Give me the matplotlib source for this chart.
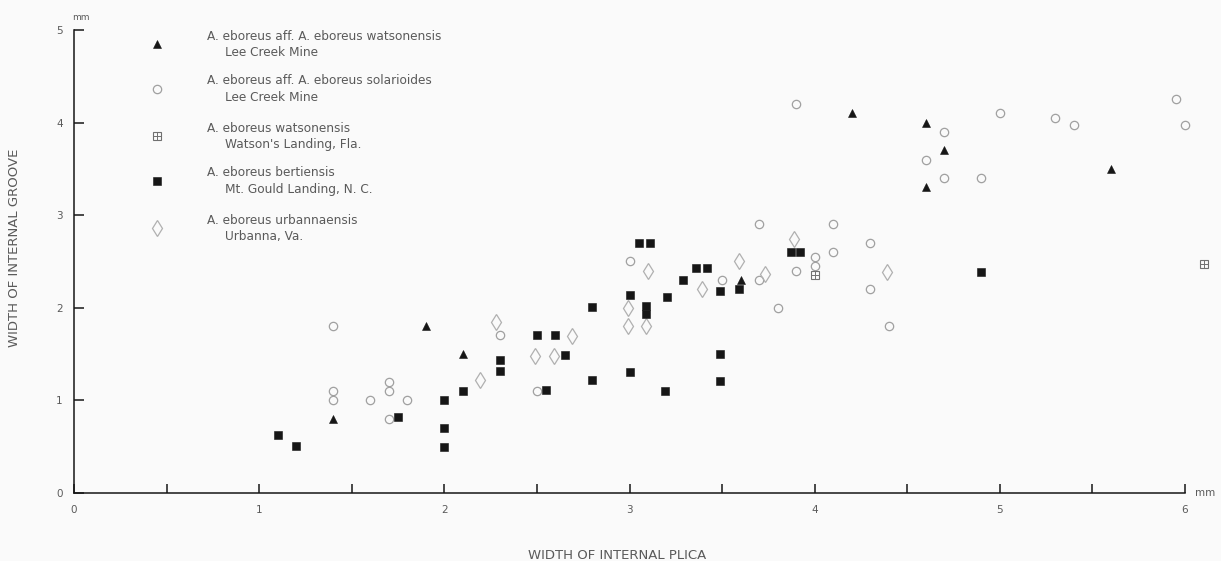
import matplotlib.pyplot as plt
from matplotlib.lines import Line2D

# Width of internal plica (x) vs width of internal groove (y), in mm

# A. eboreus aff. A. eboreus watsonensis - Lee Creek Mine
tri_x = [1.4, 1.9, 2.1, 3.6, 4.2, 4.6, 4.7, 4.6, 5.6]
tri_y = [0.8, 1.8, 1.5, 2.3, 4.1, 4.0, 3.7, 3.3, 3.5]

# A. eboreus aff. A. eboreus solarioides - Lee Creek Mine
circ_x = [1.4, 1.4, 1.4, 1.6, 1.7, 1.7, 1.7, 1.8, 2.3, 2.5, 3.0, 3.5, 3.7, 3.7,
          3.8, 3.9, 3.9, 4.0, 4.0, 4.1, 4.1, 4.3, 4.3, 4.4, 4.6, 4.7, 4.7, 4.9,
          5.0, 5.3, 5.4, 5.95, 6.0]
circ_y = [1.8, 1.1, 1.0, 1.0, 1.2, 1.1, 0.8, 1.0, 1.7, 1.1, 2.5, 2.3, 2.3, 2.9,
          2.0, 2.4, 4.2, 2.55, 2.45, 2.6, 2.9, 2.7, 2.2, 1.8, 3.6, 3.9, 3.4, 3.4,
          4.1, 4.05, 3.97, 4.25, 3.97]

# A. eboreus watsonensis - Watson's Landing, Fla.
box_x = [4.0, 6.1]
box_y = [2.35, 2.47]

# A. eboreus bertiensis - Mt. Gould Landing, N. C.
sq_x = [1.1, 1.2, 1.75, 2.0, 2.0, 2.0, 2.1, 2.3, 2.3, 2.5, 2.6, 2.55, 2.65, 2.8,
        2.8, 3.0, 3.0, 3.05, 3.11, 3.09, 3.09, 3.2, 3.19, 3.29, 3.36, 3.42, 3.49,
        3.59, 3.49, 3.49, 3.87, 3.92, 4.9]
sq_y = [0.62, 0.5, 0.82, 1.0, 0.7, 0.49, 1.1, 1.43, 1.31, 1.7, 1.7, 1.11, 1.49,
        2.01, 1.22, 2.14, 1.3, 2.7, 2.7, 2.02, 1.93, 2.11, 1.1, 2.3, 2.43, 2.43,
        2.18, 2.2, 1.5, 1.21, 2.6, 2.6, 2.38]

# A. eboreus urbannaensis - Urbanna, Va.
dia_x = [2.19, 2.28, 2.49, 2.59, 2.69, 2.99, 2.99, 3.09, 3.1, 3.39, 3.59, 3.73,
         3.89, 4.39]
dia_y = [1.22, 1.85, 1.48, 1.48, 1.69, 2.0, 1.8, 1.8, 2.4, 2.2, 2.5, 2.36, 2.74,
         2.39]

legend_names = [
    ("A. eboreus aff. A. eboreus watsonensis", "Lee Creek Mine"),
    ("A. eboreus aff. A. eboreus solarioides", "Lee Creek Mine"),
    ("A. eboreus watsonensis", "Watson's Landing, Fla."),
    ("A. eboreus bertiensis", "Mt. Gould Landing, N. C."),
    ("A. eboreus urbannaensis", "Urbanna, Va."),
]

ink = "#161616"
text_col = "#5a5a5a"

tri_style = dict(marker="^", ms=6.3, color=ink, mec=ink, mew=0.4, ls="none")
circ_style = dict(marker="o", ms=6, mfc="none", mec="#a0a0a0", mew=0.9, ls="none")
box_style = dict(marker="s", ms=5.3, mfc="none", mec="#707070", mew=0.8, ls="none")
plus_style = dict(marker="+", ms=5.3, color="#707070", mew=0.7, ls="none")
sq_style = dict(marker="s", ms=6.0, color=ink, mec=ink, mew=0.4, ls="none")
dia_style = dict(marker="d", ms=8, mfc="none", mec="#b0b0b0", mew=0.9, ls="none")

fig = plt.figure(figsize=(12.21, 5.61), dpi=100, facecolor="#fafafa")
ax = fig.add_axes([74 / 1221, 1 - 492.7 / 561, 1111 / 1221, 462.7 / 561])
ax.set_facecolor("#fafafa")

ax.plot(circ_x, circ_y, clip_on=False, **circ_style)
ax.plot(dia_x, dia_y, clip_on=False, **dia_style)
ax.plot(box_x, box_y, clip_on=False, **box_style)
ax.plot(box_x, box_y, clip_on=False, **plus_style)
ax.plot(sq_x, sq_y, clip_on=False, **sq_style)
ax.plot(tri_x, tri_y, clip_on=False, **tri_style)

ax.set_xlim(0, 6)
ax.set_ylim(0, 5)
for side in ["top", "right"]:
    ax.spines[side].set_visible(False)
for side in ["left", "bottom"]:
    ax.spines[side].set_color(ink)
    ax.spines[side].set_linewidth(1.1)

ax.set_xticks(range(0, 7))
ax.set_xticks([0.5, 1.5, 2.5, 3.5, 4.5, 5.5], minor=True)
ax.set_yticks(range(0, 6))
ax.tick_params(axis="x", which="both", direction="in", length=6.5, width=1.1,
               color=ink, labelsize=7.5, labelcolor=text_col, pad=9)
ax.tick_params(axis="y", which="both", direction="in", length=7, width=1.1,
               color=ink, labelsize=7.5, labelcolor=text_col, pad=8)

ax.set_xlabel("WIDTH OF INTERNAL PLICA", fontsize=9.5, color=text_col)
ax.set_ylabel("WIDTH OF INTERNAL GROOVE", fontsize=9.5, color=text_col)
ax.xaxis.set_label_coords(0.489, -0.122)
ax.yaxis.set_label_coords(-0.048, 0.53)

# unit marks at the axis ends
ax.text(0.006, 1.028, "mm", transform=ax.transAxes, fontsize=6.5,
        color=text_col, ha="center", va="center")
ax.text(1.018, 0.0, "mm", transform=ax.transAxes, fontsize=7.5,
        color=text_col, ha="center", va="center")

# key in the upper left corner
key_styles = [[tri_style], [circ_style], [box_style, plus_style], [sq_style], [dia_style]]
key_rows = [44, 89, 136, 181, 228]
for (line1, line2), styles, row in zip(legend_names, key_styles, key_rows):
    yf = 1 - row / 561
    for st in styles:
        fig.add_artist(Line2D([157 / 1221], [yf], transform=fig.transFigure, **st))
    fig.text(207 / 1221, yf + 8 / 561, line1, fontsize=8.7, color=text_col,
             ha="left", va="center")
    fig.text(225 / 1221, yf - 8.5 / 561, line2, fontsize=8.7, color=text_col,
             ha="left", va="center")

fig.savefig("out.png", dpi=100, facecolor=fig.get_facecolor())
